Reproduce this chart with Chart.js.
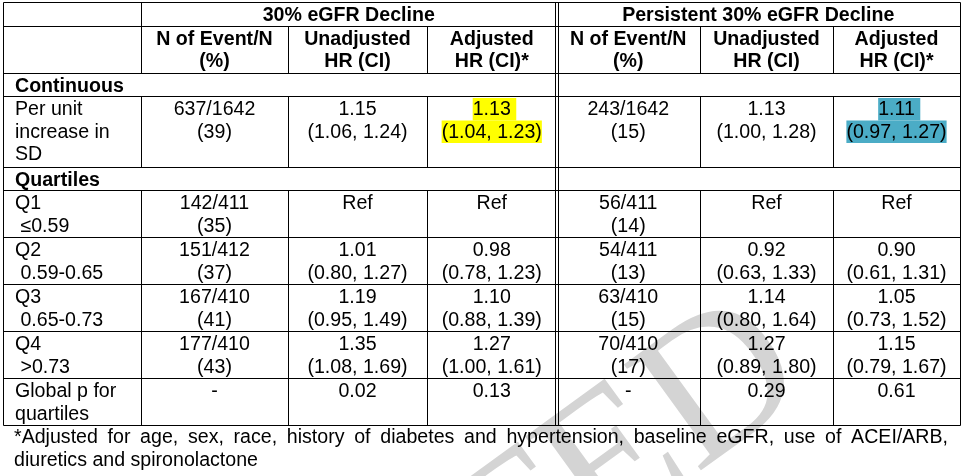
<!DOCTYPE html>
<html lang="en">
<head>
<meta charset="UTF-8">
<title>eGFR decline hazard ratios</title>
<script src="https://cdn.jsdelivr.net/npm/chart.js"></script>
<style>
  html, body { margin: 0; padding: 0; background: #fff; }
  .wrap { width: 965px; height: 476px; position: relative; }
</style>
</head>
<body>
<div class="wrap"><canvas id="tableChart"></canvas></div>
<script>
// headings
const groups = ['30% eGFR Decline', 'Persistent 30% eGFR Decline'];
const colHeads = [['N of Event/N', '(%)'], ['Unadjusted', 'HR (CI)'], ['Adjusted', 'HR (CI)*']];
const sections = ['Continuous', 'Quartiles'];
const rowLabels = [['Per unit', 'increase in', 'SD'], ['Q1', ' \u22640.59'], ['Q2', ' 0.59-0.65'],
                   ['Q3', ' 0.65-0.73'], ['Q4', ' >0.73'], ['Global p for', 'quartiles']];

// 30% eGFR decline
const events30 = [637, 142, 151, 167, 177];
const totals30 = [1642, 411, 412, 410, 410];
const pct30 = [39, 35, 37, 41, 43];
const hrUn30 = [1.15, null, 1.01, 1.19, 1.35];
const ciUn30 = [[1.06, 1.24], null, [0.80, 1.27], [0.95, 1.49], [1.08, 1.69]];
const hrAdj30 = [1.13, null, 0.98, 1.10, 1.27];
const ciAdj30 = [[1.04, 1.23], null, [0.78, 1.23], [0.88, 1.39], [1.00, 1.61]];
const pGlobal30 = [0.02, 0.13];

// persistent 30% eGFR decline
const eventsP = [243, 56, 54, 63, 70];
const totalsP = [1642, 411, 411, 410, 410];
const pctP = [15, 14, 13, 15, 17];
const hrUnP = [1.13, null, 0.92, 1.14, 1.27];
const ciUnP = [[1.00, 1.28], null, [0.63, 1.33], [0.80, 1.64], [0.89, 1.80]];
const hrAdjP = [1.11, null, 0.90, 1.05, 1.15];
const ciAdjP = [[0.97, 1.27], null, [0.61, 1.31], [0.73, 1.52], [0.79, 1.67]];
const pGlobalP = [0.29, 0.61];

const footnote = ['*Adjusted for age, sex, race, history of diabetes and hypertension, baseline eGFR, use of ACEI/ARB,',
                  'diuretics and spironolactone'];
const watermark = 'ACCEPTED';

// layout (pixels on the x / y scales)
const colEdges = [3, 141, 288, 427, 556.5, 700, 833, 960];
const tableTop = 2, lineUnit = 23.5, textPitch = 22.5;
const FONT = '"Liberation Sans", Arial, sans-serif';
const FS = 19.6;
const marks = { 3: '#ffff00', 6: '#4bacc6' };   // highlighted adjusted HR, continuous row

function evCell(e, t, p) { return [e + '/' + t, '(' + p + ')']; }
function hrCell(h, ci) {
    if (h == null) return ['Ref'];
    return [h.toFixed(2), '(' + ci[0].toFixed(2) + ', ' + ci[1].toFixed(2) + ')'];
}

// body rows: label + 6 cells
const bodyRows = [];
for (let i = 0; i < 5; i++) {
    bodyRows.push([rowLabels[i],
        evCell(events30[i], totals30[i], pct30[i]), hrCell(hrUn30[i], ciUn30[i]), hrCell(hrAdj30[i], ciAdj30[i]),
        evCell(eventsP[i], totalsP[i], pctP[i]), hrCell(hrUnP[i], ciUnP[i]), hrCell(hrAdjP[i], ciAdjP[i])]);
}
bodyRows.push([rowLabels[5], ['-'], [pGlobal30[0].toFixed(2)], [pGlobal30[1].toFixed(2)],
               ['-'], [pGlobalP[0].toFixed(2)], [pGlobalP[1].toFixed(2)]]);

// row list in order, with height in text lines
const rows = [{ kind: 'group', lines: 1 }, { kind: 'head', lines: 2 }, { kind: 'section', text: sections[0], lines: 1 },
              { kind: 'body', cells: bodyRows[0], lines: 3, mark: true }, { kind: 'section', text: sections[1], lines: 1 }];
for (let i = 1; i < bodyRows.length; i++) rows.push({ kind: 'body', cells: bodyRows[i], lines: 2 });

const tablePlugin = {
    id: 'tablePlugin',
    afterDraw(chart) {
        const ctx = chart.ctx;
        const sx = chart.scales.x, sy = chart.scales.y;
        const X = v => sx.getPixelForValue(v);
        const Y = v => sy.getPixelForValue(v);
        const mid = c => (X(colEdges[c]) + X(colEdges[c + 1])) / 2;
        ctx.save();

        // watermark
        ctx.save();
        const wfs = 200;
        ctx.translate(X(716), Y(378));
        ctx.rotate(-36 * Math.PI / 180);
        ctx.font = wfs + 'px "Liberation Serif", "Times New Roman", serif';
        ctx.fillStyle = '#d4d4d4';
        ctx.textAlign = 'right';
        ctx.textBaseline = 'alphabetic';
        ctx.fillText(watermark, 0.361 * wfs, 0.33 * wfs);
        ctx.restore();

        // row tops
        const tops = [];
        let acc = tableTop;
        rows.forEach(r => { tops.push(acc); acc += r.lines * lineUnit; });
        const bottom = acc;

        ctx.fillStyle = '#000';
        ctx.textBaseline = 'alphabetic';
        const line = (x1, y1, x2, y2) => {
            ctx.beginPath(); ctx.moveTo(x1, y1); ctx.lineTo(x2, y2); ctx.stroke();
        };
        const crisp = v => Math.round(v) + 0.5;

        rows.forEach((r, k) => {
            const top = Y(tops[k]);
            const base = i => top + 19 + i * textPitch;
            if (r.kind === 'group') {
                ctx.font = 'bold ' + FS + 'px ' + FONT;
                ctx.textAlign = 'center';
                ctx.fillText(groups[0], (X(colEdges[1]) + X(colEdges[4])) / 2, base(0));
                ctx.fillText(groups[1], (X(colEdges[4]) + X(colEdges[7])) / 2, base(0));
            } else if (r.kind === 'head') {
                ctx.font = 'bold ' + FS + 'px ' + FONT;
                ctx.textAlign = 'center';
                for (let c = 1; c < 7; c++) {
                    colHeads[(c - 1) % 3].forEach((t, i) => ctx.fillText(t, mid(c), base(i)));
                }
            } else if (r.kind === 'section') {
                ctx.font = 'bold ' + FS + 'px ' + FONT;
                ctx.textAlign = 'left';
                ctx.fillText(r.text, X(colEdges[0]) + 12, base(0));
            } else {
                ctx.font = FS + 'px ' + FONT;
                r.cells.forEach((cell, c) => {
                    cell.forEach((t, i) => {
                        if (c === 0) {
                            ctx.textAlign = 'left';
                            ctx.fillText(t, X(colEdges[0]) + 12, base(i));
                            return;
                        }
                        const cx = mid(c);
                        if (r.mark && marks[c]) {
                            const w = ctx.measureText(t).width;
                            const extra = i === 0 ? ctx.measureText(' ').width : 0;
                            ctx.fillStyle = marks[c];
                            ctx.fillRect(cx - w / 2, base(i) - 17, w + extra, textPitch);
                            ctx.fillStyle = '#000';
                        }
                        ctx.textAlign = 'center';
                        ctx.fillText(t, cx, base(i));
                    });
                });
            }
        });

        // grid lines
        ctx.strokeStyle = '#000';
        ctx.lineWidth = 1;
        const left = crisp(X(colEdges[0])), right = crisp(X(colEdges[7]));
        tops.concat([bottom]).forEach(t => line(left, crisp(Y(t)), right, crisp(Y(t))));
        line(left, crisp(Y(tableTop)), left, crisp(Y(bottom)));
        line(right, crisp(Y(tableTop)), right, crisp(Y(bottom)));
        const dv = X(colEdges[4]);
        line(Math.round(dv) - 1.5, crisp(Y(tableTop)), Math.round(dv) - 1.5, crisp(Y(bottom)));
        line(Math.round(dv) + 1.5, crisp(Y(tableTop)), Math.round(dv) + 1.5, crisp(Y(bottom)));
        rows.forEach((r, k) => {
            const y1 = crisp(Y(tops[k])), y2 = crisp(Y(tops[k] + r.lines * lineUnit));
            if (r.kind === 'section') return;
            const inner = r.kind === 'group' ? [1] : [1, 2, 3, 5, 6];
            inner.forEach(c => line(crisp(X(colEdges[c])), y1, crisp(X(colEdges[c])), y2));
        });

        // footnote, first line justified
        ctx.font = FS + 'px ' + FONT;
        ctx.textAlign = 'left';
        const fl = X(14), fr = X(948);
        const words = footnote[0].split(' ');
        const ws = words.map(w => ctx.measureText(w).width);
        const gap = (fr - fl - ws.reduce((a, b) => a + b, 0)) / (words.length - 1);
        let cx = fl;
        words.forEach((w, i) => { ctx.fillText(w, cx, Y(443)); cx += ws[i] + gap; });
        ctx.fillText(footnote[1], fl, Y(466));

        ctx.restore();
    }
};

new Chart(document.getElementById('tableChart'), {
    type: 'scatter',
    data: { datasets: [] },
    options: {
        responsive: true,
        maintainAspectRatio: false,
        animation: false,
        layout: { padding: 0 },
        plugins: { legend: { display: false }, tooltip: { enabled: false } },
        scales: {
            x: { type: 'linear', min: 0, max: 965, display: false },
            y: { type: 'linear', min: 0, max: 476, reverse: true, display: false }
        }
    },
    plugins: [tablePlugin]
});
</script>
</body>
</html>
